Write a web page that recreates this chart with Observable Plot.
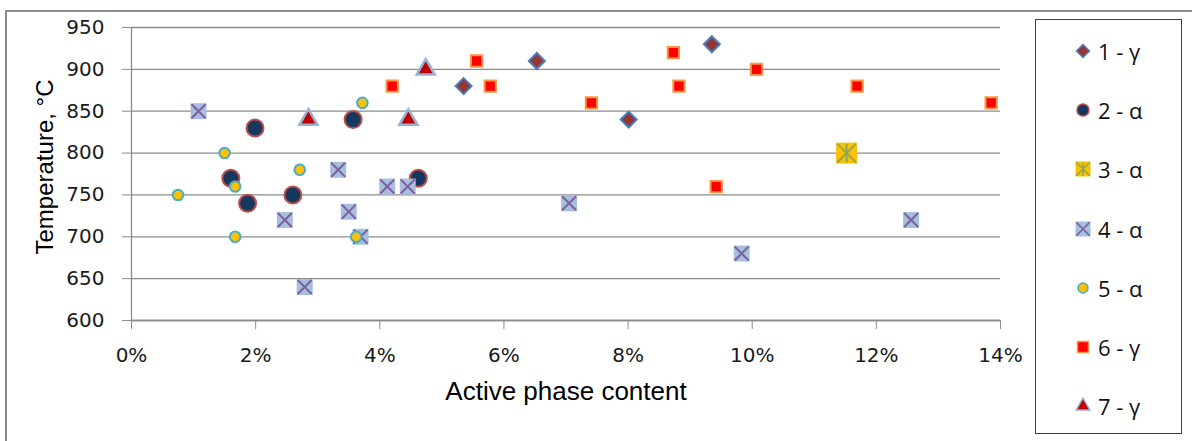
<!DOCTYPE html>
<html><head><meta charset="utf-8">
<script src="https://cdn.jsdelivr.net/npm/d3@7"></script>
<script src="https://cdn.jsdelivr.net/npm/@observablehq/plot@0.6"></script>
<style>
body{margin:0;background:#fff;}
#wrap{position:relative;width:1192px;height:441px;overflow:hidden;background:#fff;}
#frame{position:absolute;left:5px;top:10px;width:1300px;height:600px;border-left:2px solid #8c8c8c;border-top:2px solid #8c8c8c;}
#chart{position:absolute;left:0;top:0;}
#legend{position:absolute;left:1035px;top:19px;width:147px;height:415px;border:1.5px solid #404040;box-sizing:border-box;background:#fff;}
.item{position:absolute;left:0;height:30px;display:flex;align-items:center;font-family:"Open Sans",sans-serif;font-size:22px;color:#111;}
</style></head><body>
<div id="wrap"><div id="frame"></div><div id="chart"></div><div id="legend"></div></div>
<script>
// ---- data (x in %, y in °C) ----
const seriesNames = ["1 - γ", "2 - α", "3 - α", "4 - α", "5 - α", "6 - γ", "7 - γ"];
const s1x = [5.35, 6.53, 8.01, 9.35];
const s1y = [880, 910, 840, 930];
const s2x = [1.99, 1.60, 1.87, 2.60, 3.57, 4.62];
const s2y = [830, 770, 740, 750, 840, 770];
const s3x = [11.52];
const s3y = [800];
const s4x = [1.08, 2.47, 2.79, 3.33, 3.50, 3.69, 4.12, 4.45, 7.05, 9.83, 12.56];
const s4y = [850, 720, 640, 780, 730, 700, 760, 760, 740, 680, 720];
const s5x = [0.75, 1.50, 1.67, 1.67, 2.71, 3.62, 3.72];
const s5y = [750, 800, 760, 700, 780, 700, 860];
const s6x = [4.20, 5.56, 5.78, 7.41, 8.73, 8.82, 9.42, 10.07, 11.69, 13.85];
const s6y = [880, 910, 880, 860, 920, 880, 760, 900, 880, 860];
const s7x = [2.85, 4.46, 4.74];
const s7y = [840, 840, 900];
const xTicks = [0, 2, 4, 6, 8, 10, 12, 14];
const yTicks = [600, 650, 700, 750, 800, 850, 900, 950];

const rows = (xs, ys) => xs.map((x, i) => ({x, y: ys[i]}));

// custom symbols
const xSym = {draw(ctx, size) { const h = Math.sqrt(size) * 0.44;
  ctx.moveTo(-h, -h); ctx.lineTo(h, h); ctx.moveTo(h, -h); ctx.lineTo(-h, h); }};
const starSym = {draw(ctx, size) { const h = Math.sqrt(size) * 0.45;
  ctx.moveTo(-h, -h); ctx.lineTo(h, h); ctx.moveTo(h, -h); ctx.lineTo(-h, h);
  ctx.moveTo(0, -h); ctx.lineTo(0, h); }};

const C = {
  d1f: "#943634", d1s: "#4A7EBB",
  c2f: "#17375E", c2s: "#B84E4B",
  q3f: "#FFC000", q3s: "#8EA84E",
  q4f: "#A7BFDE", q4s: "#7B62A0",
  c5f: "#FFC000", c5s: "#4BACC6",
  q6f: "#FF0000", q6s: "#F79646",
  t7f: "#C00000", t7s: "#95B3D7"
};

const chart = Plot.plot({
  width: 1192, height: 441,
  marginLeft: 131, marginRight: 192, marginTop: 27, marginBottom: 121,
  style: {fontFamily: "DejaVu Sans", background: "transparent", color: "#1a1a1a"},
  x: {domain: [0, 14]},
  y: {domain: [600, 950]},
  marks: [
    Plot.gridY(yTicks, {stroke: "#8c8c8c", strokeOpacity: 1, strokeWidth: 1.3}),
    Plot.ruleX([0], {stroke: "#8c8c8c", strokeWidth: 1.3}),
    Plot.ruleY([600], {stroke: "#8c8c8c", strokeWidth: 1.3}),
    Plot.axisY({ticks: yTicks, tickSize: 9, tickPadding: 18, fontSize: 20, label: null, stroke: "#8c8c8c", fill: "#1a1a1a"}),
    Plot.axisX({ticks: xTicks, tickFormat: d => d + "%", tickSize: 9, tickPadding: 18, fontSize: 20, label: null, stroke: "#8c8c8c", fill: "#1a1a1a"}),
    Plot.text(["Temperature, °C"], {frameAnchor: "left", textAnchor: "middle", lineAnchor: "middle", rotate: -90, dx: -86, dy: -7, fontSize: 24, fontFamily: "Liberation Sans", fill: "#000"}),
    Plot.text(["Active phase content"], {frameAnchor: "bottom", textAnchor: "middle", lineAnchor: "middle", dy: 71, fontSize: 26, fontFamily: "Liberation Sans", fill: "#000"}),
    // 1 - γ
    Plot.dot(rows(s1x, s1y), {x: "x", y: "y", symbol: "diamond2", r: 7.2, fill: C.d1f, stroke: C.d1s, strokeWidth: 2}),
    // 2 - α
    Plot.dot(rows(s2x, s2y), {x: "x", y: "y", symbol: "circle", r: 8.5, fill: C.c2f, stroke: C.c2s, strokeWidth: 2}),
    // 3 - α
    Plot.dot(rows(s3x, s3y), {x: "x", y: "y", symbol: "square", r: 11.8, fill: C.q3f, stroke: "none"}),
    Plot.dot(rows(s3x, s3y), {x: "x", y: "y", symbol: starSym, r: 11.8, fill: "none", stroke: C.q3s, strokeWidth: 2}),
    // 4 - α
    Plot.dot(rows(s4x, s4y), {x: "x", y: "y", symbol: "square", r: 9, fill: C.q4f, stroke: "none"}),
    Plot.dot(rows(s4x, s4y), {x: "x", y: "y", symbol: xSym, r: 9, fill: "none", stroke: C.q4s, strokeWidth: 2}),
    // 5 - α
    Plot.dot(rows(s5x, s5y), {x: "x", y: "y", symbol: "circle", r: 5.3, fill: C.c5f, stroke: C.c5s, strokeWidth: 2}),
    // 6 - γ
    Plot.dot(rows(s6x, s6y), {x: "x", y: "y", symbol: "square", r: 6.4, fill: C.q6f, stroke: C.q6s, strokeWidth: 2}),
    // 7 - γ
    Plot.dot(rows(s7x, s7y), {x: "x", y: "y", symbol: "triangle", r: 6.7, fill: C.t7f, stroke: C.t7s, strokeWidth: 2.5})
  ]
});
document.getElementById("chart").appendChild(chart);

// ---- legend ----
const legendStyles = [
  [{type: d3.symbolDiamond2, size: 108, fill: C.d1f, stroke: C.d1s, sw: 1.5}],
  [{type: d3.symbolCircle, size: 113, fill: C.c2f, stroke: C.c2s, sw: 1.5}],
  [{type: d3.symbolSquare, size: 225, fill: C.q3f, stroke: "none"}, {type: starSym, size: 225, fill: "none", stroke: C.q3s, sw: 1.5}],
  [{type: d3.symbolSquare, size: 225, fill: C.q4f, stroke: "none"}, {type: xSym, size: 225, fill: "none", stroke: C.q4s, sw: 1.5}],
  [{type: d3.symbolCircle, size: 78, fill: C.c5f, stroke: C.c5s, sw: 1.5}],
  [{type: d3.symbolSquare, size: 121, fill: C.q6f, stroke: C.q6s, sw: 1.5}],
  [{type: d3.symbolTriangle, size: 80, fill: C.t7f, stroke: C.t7s, sw: 1.5}]
];
const legend = d3.select("#legend");
seriesNames.forEach((name, i) => {
  const item = legend.append("div").attr("class", "item")
    .style("top", (31 + i * 59.2 - 15) + "px").style("left", "36px");
  const svg = item.append("svg").attr("width", 22).attr("height", 22).style("margin-right", "4px");
  legendStyles[i].forEach(s => {
    svg.append("path").attr("transform", "translate(11,11)")
      .attr("d", d3.symbol().type(s.type).size(s.size)())
      .attr("fill", s.fill).attr("stroke", s.stroke).attr("stroke-width", s.sw || 0);
  });
  item.append("span").text(name);
});
</script>
</body></html>
